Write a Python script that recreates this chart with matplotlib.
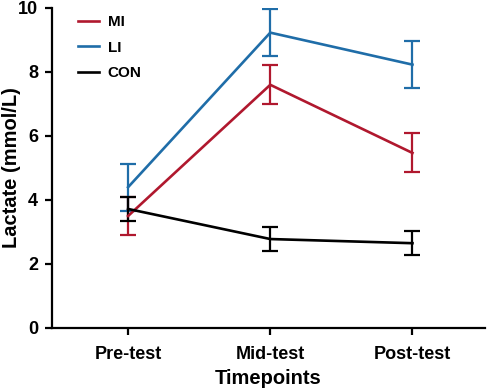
import matplotlib
matplotlib.use("Agg")
import matplotlib.pyplot as plt

plt.rcParams['font.family'] = ['Liberation Sans', 'DejaVu Sans']
plt.rcParams['font.weight'] = 'bold'

timepoints = ["Pre-test", "Mid-test", "Post-test"]
series_names = ["MI", "LI", "CON"]
mi_mean = [3.5, 7.6, 5.47]
mi_err = [0.6, 0.61, 0.61]
li_mean = [4.4, 9.23, 8.23]
li_err = [0.74, 0.74, 0.73]
con_mean = [3.72, 2.78, 2.65]
con_err = [0.37, 0.38, 0.37]
colors = ["#B0182E", "#1F6DA8", "#000000"]
y_ticks = [0, 2, 4, 6, 8, 10]

fig = plt.figure(figsize=(4.87, 3.91), dpi=100)
ax = fig.add_axes([52/487, 63/391, 433/487, 320/391])

x = list(range(len(timepoints)))
for name, m, e, c in zip(series_names, [mi_mean, li_mean, con_mean],
                         [mi_err, li_err, con_err], colors):
    ax.errorbar(x, m, yerr=e, fmt='none', ecolor=c, elinewidth=1.6,
                capsize=5.5, capthick=1.6, zorder=2)
    ax.plot(x, m, color=c, lw=1.9, label=name, zorder=3)

ax.set_xlim(-0.535, 2.51)
ax.set_ylim(0, 10)
ax.set_yticks(y_ticks)
ax.set_xticks(x)
ax.set_xticklabels(timepoints)
for s in ['top', 'right']:
    ax.spines[s].set_visible(False)
for s in ['left', 'bottom']:
    ax.spines[s].set_linewidth(1.6)
ax.tick_params(width=1.6, length=5, labelsize=13)
ax.tick_params(axis='x', pad=8)
ax.tick_params(axis='y', pad=5)
for lab in ax.get_xticklabels() + ax.get_yticklabels():
    lab.set_fontweight('bold')
ax.set_xlabel("Timepoints", fontsize=14.5, fontweight='bold')
ax.set_ylabel("Lactate (mmol/L)", fontsize=14.5, fontweight='bold')
ax.xaxis.set_label_coords(0.5, -0.128)
ax.yaxis.set_label_coords(-0.072, 0.5)

leg = ax.legend(loc='upper left', bbox_to_anchor=(0.028, 1.02), frameon=False,
                prop={'weight': 'bold', 'size': 11}, handlelength=1.4,
                labelspacing=0.75, handletextpad=0.55)

fig.savefig("out.png", dpi=100)
